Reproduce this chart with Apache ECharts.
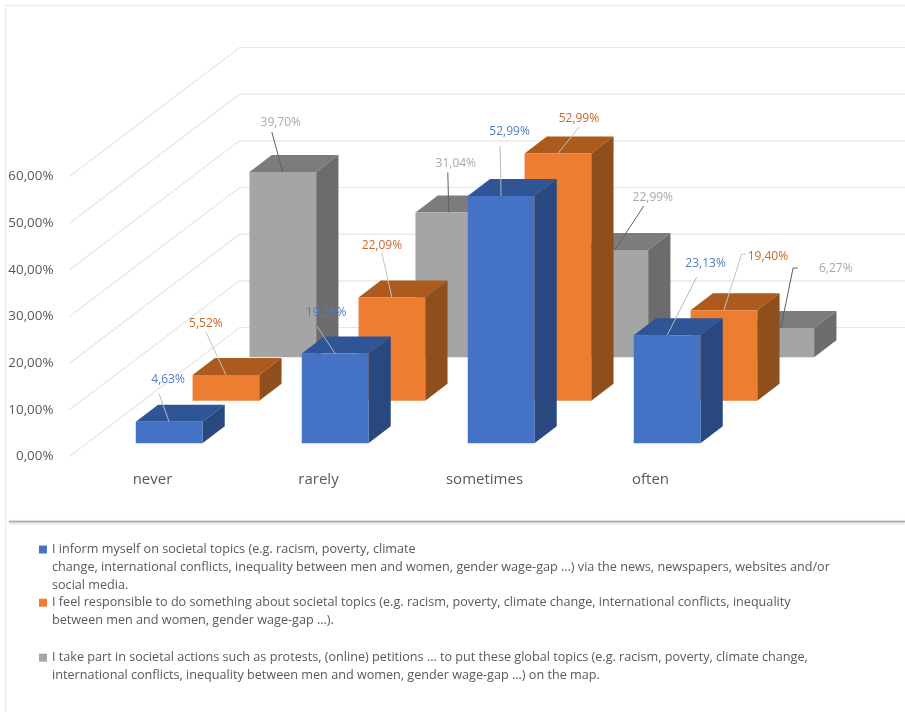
<!DOCTYPE html>
<html><head><meta charset="utf-8">
<style>html,body{margin:0;padding:0;background:#fff}#c{width:905px;height:712px}</style>
<script src="https://cdn.jsdelivr.net/npm/echarts@6/dist/echarts.min.js"></script>
</head><body><div id="c"></div>
<script>
const categories = ['never', 'rarely', 'sometimes', 'often'];
const informValues = [4.63, 19.25, 52.99, 23.13];
const responsibleValues = [5.52, 22.09, 52.99, 19.40];
const actionValues = [39.70, 31.04, 22.99, 6.27];
const yTicks = [0, 10, 20, 30, 40, 50, 60];
const informName = 'I inform myself on societal topics (e.g. racism, poverty, climate\nchange, international conflicts, inequality between men and women, gender wage-gap …) via the news, newspapers, websites and/or\nsocial media.';
const responsibleName = 'I feel responsible to do something about societal topics (e.g. racism, poverty, climate change, international conflicts, inequality\nbetween men and women, gender wage-gap …).';
const actionName = 'I take part in societal actions such as protests, (online) petitions … to put these global topics (e.g. racism, poverty, climate change,\ninternational conflicts, inequality between men and women, gender wage-gap …) on the map.';

// Layout of the fake-3D projection (pixels)
const FONT = '"Open Sans", sans-serif';
const BAR_RATIO = 0.4016, DEPTH_X = 22.3, DEPTH_Y = 17;
const WALL_X = 170, WALL_Y = 129;
const ROW_X = [16.6, 73.4, 130.3], ROW_Y = [13.2, 55.8, 99.2];

// Data-label layout relative to the top-front centre of each bar
const informLabels = [
  {t:[-1,-42], l:[[-10,-28]]}, {t:[-9,-41], l:[[-18,-27]]},
  {t:[8.5,-64], l:[[-1,-50]]}, {t:[38.5,-72], l:[[29.5,-58]]}];
const responsibleLabels = [
  {t:[-20,-51], l:[[-20,-43]]}, {t:[-10,-52.4], l:[[-10,-44.6]]},
  {t:[21,-35], l:[[21,-26]]}, {t:[44,-53.3], l:[[22,-56],[17.7,-56]]}];
const actionLabels = [
  {t:[-2,-49], l:[[-11,-40]]}, {t:[7,-49], l:[[-1,-40]]},
  {t:[38,-52], l:[[29,-44]]}, {t:[55,-59], l:[[17,-60],[12.3,-60]]}];

function barRenderer(row, colors, labels, textColor, leaderColor) {
  return function (params, api) {
    const i = api.value(0), v = api.value(1);
    const bw = api.size([1, 0])[0] * BAR_RATIO;
    const top = api.coord([i, v]), base = api.coord([i, 0]);
    const cx = top[0] + ROW_X[row];
    const yT = top[1] - ROW_Y[row], yB = base[1] - ROW_Y[row];
    const x0 = cx - bw / 2, x1 = cx + bw / 2;
    const lay = labels[i];
    const pts = lay.l.map(p => [cx + p[0], yT + p[1]]).concat([[cx, yT]]);
    return {
      type: 'group',
      children: [
        {type:'polygon', shape:{points:[[x0,yT],[x1,yT],[x1+DEPTH_X,yT-DEPTH_Y],[x0+DEPTH_X,yT-DEPTH_Y]]}, style:{fill:colors.top}},
        {type:'polygon', shape:{points:[[x1,yT],[x1+DEPTH_X,yT-DEPTH_Y],[x1+DEPTH_X,yB-DEPTH_Y],[x1,yB]]}, style:{fill:colors.side}},
        {type:'rect', shape:{x:x0,y:yT,width:bw,height:yB-yT}, style:{fill:colors.front}},
        {type:'polyline', shape:{points:pts}, style:{fill:null, stroke:leaderColor, lineWidth:1}},
        {type:'text', x:cx+lay.t[0], y:yT+lay.t[1], style:{
          text:v.toFixed(2).replace('.',',')+'%', fill:textColor, font:'12px '+FONT, align:'center', verticalAlign:'middle'}}
      ]
    };
  };
}
function barSeries(name, values, row, colors, labels, textColor, leaderColor) {
  return {
    name, type:'custom', coordinateSystem:'cartesian2d', silent:true, z:3+(2-row),
    itemStyle:{color:colors.front},
    encode:{x:0,y:1},
    data:values.map((v,i)=>[i,v]),
    renderItem:barRenderer(row,colors,labels,textColor,leaderColor)
  };
}
const wallSeries = {
  name:'walls', type:'custom', coordinateSystem:'cartesian2d', silent:true, z:1,
  encode:{y:0}, data:yTicks.map(v=>[v]),
  renderItem(params, api){
    const y = api.coord([0, api.value(0)])[1], x = params.coordSys.x;
    return {type:'polyline', shape:{points:[[x,y],[x+WALL_X,y-WALL_Y],[api.getWidth(),y-WALL_Y]]},
      style:{fill:null, stroke:'#e6e6e6', lineWidth:1.2}};
  }
};
function legendOf(name, top){
  const lines = name.split('\n').length;
  return {
    data:[name], left:39, top, padding:0, orient:'vertical', icon:'rect', itemWidth:8, itemHeight:8,
    selectedMode:false,
    formatter:n=>'\n'.repeat(lines-1)+n,
    textStyle:{color:'#595959', fontFamily:FONT, fontSize:12.63, lineHeight:17.8}
  };
}
const chart = echarts.init(document.getElementById('c'), null, {renderer:'canvas'});
chart.setOption({
  animation:false, backgroundColor:'#fff',
  grid:{left:69.5, width:664, top:176.5, height:280, containLabel:false},
  xAxis:{type:'category', data:categories, axisLine:{show:false}, axisTick:{show:false}, splitLine:{show:false},
    axisLabel:{color:'#595959', fontFamily:FONT, fontSize:15, margin:16}},
  yAxis:{type:'value', min:0, max:60, interval:10, axisLine:{show:false}, axisTick:{show:false}, splitLine:{show:false},
    axisLabel:{color:'#595959', fontFamily:FONT, fontSize:13.4, margin:16, padding:[5,0,0,0], formatter:v=>v.toFixed(2).replace('.',',')+'%'}},
  legend:[legendOf(informName,505), legendOf(responsibleName,576), legendOf(actionName,631)],
  graphic:[
    {type:'polyline', silent:true, shape:{points:[[5.5,712],[5.5,5.5],[905,5.5]]}, style:{fill:null, stroke:'#eeeeee', lineWidth:1.5}},
    {type:'line', silent:true, shape:{x1:9,y1:521.5,x2:905,y2:521.5}, style:{stroke:'#a8a8a8', lineWidth:1.5, shadowBlur:3, shadowColor:'rgba(0,0,0,0.25)', shadowOffsetY:1}}
  ],
  series:[
    wallSeries,
    barSeries(actionName, actionValues, 2, {front:'#a5a5a5',top:'#7c7c7c',side:'#6c6c6c'}, actionLabels, '#a9a9a9', '#5f5f5f'),
    barSeries(responsibleName, responsibleValues, 1, {front:'#ed7d31',top:'#ad5a1f',side:'#8f4f1d'}, responsibleLabels, '#c9692a', '#c4c4c4'),
    barSeries(informName, informValues, 0, {front:'#4472c4',top:'#2f5597',side:'#2a4880'}, informLabels, '#4f7cc9', '#b9b9b9')
  ]
});
</script></body></html>
